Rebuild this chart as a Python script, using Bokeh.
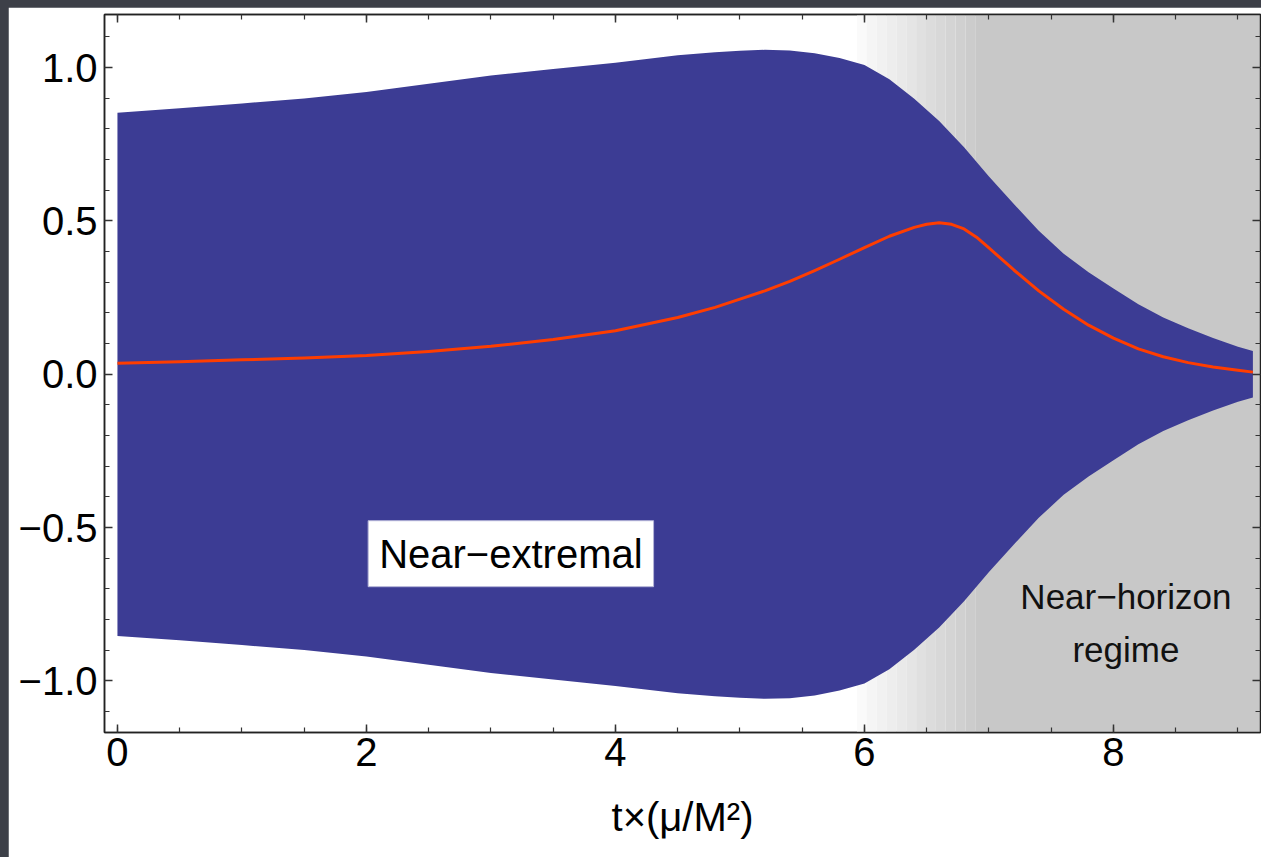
import numpy as np
from bokeh.plotting import figure
from bokeh.models import Range1d, LinearAxis, FixedTicker, BoxAnnotation, Label, ColumnDataSource
from bokeh.layouts import column
from bokeh.embed import file_html
from bokeh.resources import INLINE

# ---------------- data ----------------
t_env = [0.0, 0.5, 1.0, 1.5, 2.0, 2.5, 3.0, 3.5, 4.0, 4.5, 4.8, 5.0, 5.2, 5.4, 5.6, 5.8,
         6.0, 6.2, 6.4, 6.6, 6.8, 7.0, 7.2, 7.4, 7.6, 7.8, 8.0, 8.2, 8.4, 8.6, 8.8, 9.0, 9.12]
env_upper = [0.853, 0.867, 0.883, 0.899, 0.920, 0.947, 0.974, 0.995, 1.016, 1.040, 1.050,
             1.055, 1.058, 1.056, 1.047, 1.031, 1.008, 0.962, 0.898, 0.826, 0.740, 0.645,
             0.555, 0.468, 0.393, 0.333, 0.280, 0.228, 0.185, 0.150, 0.118, 0.090, 0.076]
env_lower = [-0.853, -0.867, -0.883, -0.899, -0.920, -0.947, -0.974, -0.995, -1.016, -1.040,
             -1.050, -1.055, -1.058, -1.056, -1.047, -1.031, -1.008, -0.962, -0.898, -0.826,
             -0.740, -0.645, -0.555, -0.468, -0.393, -0.333, -0.280, -0.228, -0.185, -0.150,
             -0.118, -0.090, -0.076]

t_mean = [0.0, 0.5, 1.0, 1.5, 2.0, 2.5, 3.0, 3.5, 4.0, 4.5, 4.8, 5.0, 5.2, 5.4, 5.6, 5.8,
          6.0, 6.2, 6.4, 6.5, 6.6, 6.7, 6.8, 6.9, 7.0, 7.2, 7.4, 7.6, 7.8, 8.0, 8.2, 8.4,
          8.6, 8.8, 9.0, 9.12]
mean_val = [0.036, 0.041, 0.047, 0.053, 0.061, 0.074, 0.091, 0.113, 0.142, 0.185, 0.218,
            0.245, 0.272, 0.303, 0.338, 0.375, 0.413, 0.450, 0.479, 0.489, 0.494, 0.489,
            0.474, 0.447, 0.412, 0.340, 0.272, 0.212, 0.160, 0.118, 0.083, 0.057, 0.038,
            0.024, 0.013, 0.007]

regime_start = 5.94   # gradient begins
regime_full = 6.89    # fully shaded near-horizon regime

x_major = [0, 2, 4, 6, 8]
y_major = [-1.0, -0.5, 0.0, 0.5, 1.0]
y_labels = {-1.0: "\u22121.0", -0.5: "\u22120.5", 0.0: "0.0", 0.5: "0.5", 1.0: "1.0"}

# ---------------- figure ----------------
FONT = "Liberation Sans"
BLUE = "#3c3c94"
RED = "#ff3d00"

p = figure(width=1253, height=850, output_backend="svg", toolbar_location=None,
           x_range=Range1d(-0.104, 9.181), y_range=Range1d(-1.168, 1.173),
           x_axis_location=None, y_axis_location=None,
           min_border_left=96, min_border_right=1, min_border_top=7, min_border_bottom=125,
           background_fill_color="white", border_fill_color="white",
           margin=(7, 0, 0, 8))
p.grid.visible = False
p.outline_line_color = "#222222"
p.outline_line_width = 1.5

# near-horizon shading (gradient in steps, then solid)
n_steps = 12
edges = np.linspace(regime_start, regime_full, n_steps + 1)
greys = np.linspace(250, 204, n_steps).astype(int)
for i in range(n_steps):
    g = int(greys[i])
    p.add_layout(BoxAnnotation(left=edges[i], right=edges[i + 1], level="underlay",
                               fill_color=f"#{g:02x}{g:02x}{g:02x}", fill_alpha=1.0,
                               line_alpha=0))
p.add_layout(BoxAnnotation(left=regime_full, level="underlay", fill_color="#c8c8c8",
                           fill_alpha=1.0, line_alpha=0))

env_src = ColumnDataSource(dict(t=t_env, lo=env_lower, hi=env_upper))
p.varea(x="t", y1="lo", y2="hi", source=env_src, fill_color=BLUE, fill_alpha=1.0)

mean_src = ColumnDataSource(dict(t=t_mean, v=mean_val))
p.line(x="t", y="v", source=mean_src, line_color=RED, line_width=3, line_join="round")

# axes
def style_axis(ax):
    ax.axis_line_color = "#222222"
    ax.axis_line_width = 1.5
    ax.major_tick_line_color = "#333333"
    ax.minor_tick_line_color = "#333333"
    ax.major_tick_line_width = 1.5
    ax.minor_tick_line_width = 1.2
    ax.major_tick_in = 8
    ax.major_tick_out = 0
    ax.minor_tick_in = 5
    ax.minor_tick_out = 0
    ax.major_label_text_font = FONT
    ax.major_label_text_color = "black"

xt = FixedTicker(ticks=x_major, minor_ticks=list(np.arange(0, 9.5, 0.5)))
yt = FixedTicker(ticks=y_major, minor_ticks=[round(v, 1) for v in np.arange(-1.1, 1.15, 0.1)])

xb = LinearAxis(ticker=xt, axis_label="t\u00d7(\u03bc/M\u00b2)")
style_axis(xb)
xb.major_label_text_font_size = "40px"
xb.major_label_standoff = 5
xb.axis_label_text_font = FONT
xb.axis_label_text_font_style = "normal"
xb.axis_label_text_color = "black"
xb.axis_label_text_font_size = "40px"
xb.axis_label_standoff = 26
p.add_layout(xb, "below")

xtop = LinearAxis(ticker=xt, major_label_overrides={v: "" for v in x_major})
style_axis(xtop)
xtop.major_label_standoff = 0
p.add_layout(xtop, "above")

yl = LinearAxis(ticker=yt, major_label_overrides=y_labels)
style_axis(yl)
yl.major_label_text_font_size = "40px"
yl.major_label_standoff = 7
p.add_layout(yl, "left")

yr = LinearAxis(ticker=yt, major_label_overrides={v: "" for v in y_major})
style_axis(yr)
yr.major_label_standoff = 0
p.add_layout(yr, "right")

# annotations
p.add_layout(Label(x=3.16, y=-0.585, text="Near\u2212extremal", text_align="center",
                   text_baseline="middle", text_font=FONT, text_font_size="40px",
                   text_color="black", background_fill_color="white",
                   background_fill_alpha=1.0, border_line_color="#b4b4d8",
                   border_line_width=1, padding=11))
p.add_layout(Label(x=8.10, y=-0.81, text="Near\u2212horizon\nregime", text_align="center",
                   text_baseline="middle", text_font=FONT, text_font_size="35px",
                   text_color="#111111", text_line_height=1.35))

layout = column(p, styles={"background-color": "#3d4048"})
html = file_html(layout, INLINE)
html = html.replace("<head>", "<head><style>html,body{margin:0;padding:0;background:#3d4048;}</style>", 1)
open("out.html", "w").write(html)
